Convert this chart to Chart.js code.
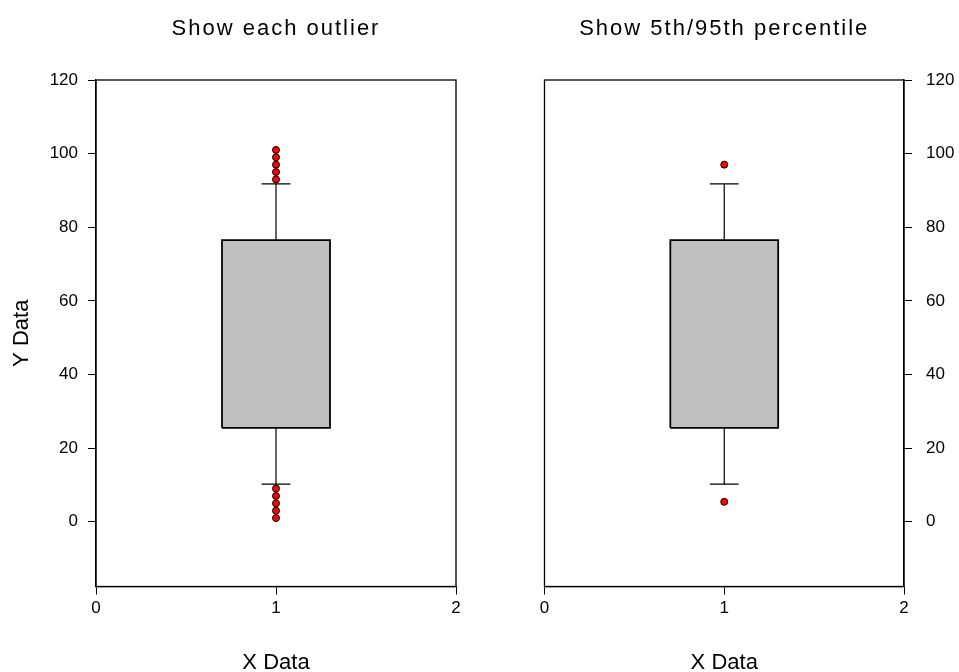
<!DOCTYPE html>
<html><head><meta charset="utf-8">
<script src="https://cdn.jsdelivr.net/npm/chart.js@4/dist/chart.umd.min.js"></script>
<style>
html,body{margin:0;padding:0;background:#fff;width:959px;height:672px;overflow:hidden}
.c{position:absolute;top:0;height:672px}
#w1{left:0;width:552px}
#w2{left:490px;width:469px}
</style></head><body>
<div class="c" id="w1"><canvas id="c1"></canvas></div>
<div class="c" id="w2"><canvas id="c2"></canvas></div>
<script>
// ---- data ----
const panelTitles = ['Show each outlier', 'Show 5th/95th percentile'];
const xAxisTitle = 'X Data';
const yAxisTitle = 'Y Data';
const xTickValues = [0, 1, 2];
const yTickValues = [0, 20, 40, 60, 80, 100, 120];
const boxX = 1;
const q1 = 25.5, median = 51, q3 = 76.5;
const whiskerLow = 10.2, whiskerHigh = 91.8;
const outliersEach = [1, 3, 5, 7, 9, 93, 95, 97, 99, 101];
const outliersPct = [5.4, 97];

// ---- styling constants ----
const FONT = "'Liberation Sans', Arial, sans-serif";
const BOX_HALF = 0.3, CAP_HALF = 0.08;
const Y_MIN = -17.6, Y_MAX = 120;

const framePlugin = {
  id: 'frame',
  beforeDraw(chart) {
    if (chart.titleBlock && !chart.titleBlock._spaced) {
      const orig = chart.titleBlock.draw;
      chart.titleBlock.draw = function () {
        const ctx = this.ctx;
        ctx.save();
        ctx.letterSpacing = '2px';
        orig.apply(this, arguments);
        ctx.restore();
      };
      chart.titleBlock._spaced = true;
    }
  },
  afterDatasetsDraw(chart) {
    const a = chart.chartArea, ctx = chart.ctx;
    ctx.save();
    ctx.strokeStyle = '#000';
    ctx.lineWidth = 1.3;
    ctx.strokeRect(a.left, a.top, a.right - a.left, a.bottom - a.top);
    ctx.restore();
  }
};

function lineDs(points, w) {
  return { type: 'scatter', data: points, showLine: true, borderColor: '#000', borderWidth: w,
           pointRadius: 0, pointHoverRadius: 0, fill: false, tension: 0 };
}

function buildDatasets(outliers) {
  return [
    Object.assign(lineDs([
      {x: boxX - BOX_HALF, y: q1}, {x: boxX + BOX_HALF, y: q1},
      {x: boxX + BOX_HALF, y: q3}, {x: boxX - BOX_HALF, y: q3},
      {x: boxX - BOX_HALF, y: q1}], 1.8), {fill: 'shape', backgroundColor: '#c0c0c0'}),
    lineDs([{x: boxX - BOX_HALF, y: median}, {x: boxX + BOX_HALF, y: median}], 1.2),
    lineDs([{x: boxX, y: q3}, {x: boxX, y: whiskerHigh}], 1.2),
    lineDs([{x: boxX, y: q1}, {x: boxX, y: whiskerLow}], 1.2),
    lineDs([{x: boxX - CAP_HALF, y: whiskerHigh}, {x: boxX + CAP_HALF, y: whiskerHigh}], 1.2),
    lineDs([{x: boxX - CAP_HALF, y: whiskerLow}, {x: boxX + CAP_HALF, y: whiskerLow}], 1.2),
    { type: 'scatter', data: outliers.map(v => ({x: boxX, y: v})), showLine: false,
      pointRadius: 3.5, pointBackgroundColor: '#ff0000', pointBorderColor: '#000', pointBorderWidth: 1 }
  ];
}

function makeChart(id, title, outliers, side) {
  const left = side === 'left';
  return new Chart(document.getElementById(id), {
    type: 'scatter',
    data: { datasets: buildDatasets(outliers) },
    plugins: [framePlugin],
    options: {
      responsive: true, maintainAspectRatio: false, animation: false,
      events: [],
      layout: { padding: left ? {left: 0, right: 96, top: 0, bottom: 0} : {left: 54.5, right: 0, top: 0, bottom: 0} },
      plugins: {
        legend: { display: false }, tooltip: { enabled: false },
        title: { display: true, fullSize: false, text: title, color: '#000',
                 font: { family: FONT, size: 22, weight: 'normal' }, padding: { top: 16, bottom: 37.6 } }
      },
      scales: {
        x: {
          type: 'linear', min: 0, max: 2, position: 'bottom',
          afterBuildTicks: s => { s.ticks = xTickValues.map(v => ({value: v})); },
          afterFit: s => { s.height = 85.5; },
          grid: { display: true, drawOnChartArea: false, drawTicks: true, tickLength: 8, tickColor: '#000', tickWidth: 1 },
          border: { display: true, color: '#000', width: 1.3 },
          ticks: { color: '#000', font: { family: FONT, size: 17 }, padding: 4, maxRotation: 0 },
          title: { display: true, text: xAxisTitle, color: '#000', font: { family: FONT, size: 22, lineHeight: 0.85 }, padding: { top: 0, bottom: 0 } }
        },
        y: {
          type: 'linear', min: Y_MIN, max: Y_MAX, position: left ? 'left' : 'right',
          afterBuildTicks: s => { s.ticks = yTickValues.map(v => ({value: v})); },
          afterFit: s => { s.width = left ? 96 : 55; },
          grid: { display: true, drawOnChartArea: false, drawTicks: true, tickLength: 8, tickColor: '#000', tickWidth: 1 },
          border: { display: true, color: '#000', width: 1.3 },
          ticks: { color: '#000', font: { family: FONT, size: 17 }, padding: left ? 10 : 14 },
          title: { display: left, text: yAxisTitle, color: '#000', font: { family: FONT, size: 22 }, padding: { top: 9, bottom: 0 } }
        }
      }
    }
  });
}

makeChart('c1', panelTitles[0], outliersEach, 'left');
makeChart('c2', panelTitles[1], outliersPct, 'right');
</script>
</body></html>
